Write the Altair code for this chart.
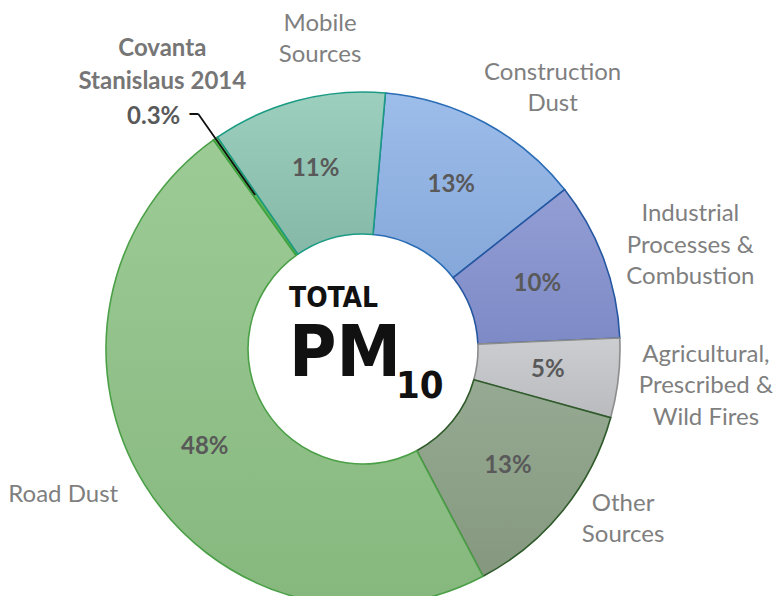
import math
import altair as alt
import pandas as pd

# ---- data ----
categories = [
    "Construction Dust",
    "Industrial Processes & Combustion",
    "Agricultural, Prescribed & Wild Fires",
    "Other Sources",
    "Road Dust",
    "Covanta Stanislaus 2014",
    "Mobile Sources",
]
values = [13, 10, 5, 13, 48, 0.3, 11]
pct_labels = ["13%", "10%", "5%", "13%", "48%", "", "11%"]
label_texts = [
    "Construction\nDust",
    "Industrial\nProcesses &\nCombustion",
    "Agricultural,\nPrescribed &\nWild Fires",
    "Other\nSources",
    "Road Dust",
    "Covanta\nStanislaus 2014",
    "Mobile\nSources",
]
covanta_pct = "0.3%"

# ---- styles ----
fill_top = ["#9dbdea", "#939ed5", "#cbcdd0", "#96aa93", "#9dcb96", "#66bd5e", "#9ccfbe"]
fill_bot = ["#85a8da", "#7e8ac6", "#b9bbbf", "#85987f", "#86b87e", "#58ad50", "#86b8a7"]
strokes = ["#2a6cb5", "#2557a0", "#8c8c8c", "#2f5a2a", "#4ba047", "#3fa33f", "#1b9b84"]

df = pd.DataFrame({
    "category": categories,
    "value": values,
    "pct": pct_labels,
    "label": label_texts,
    "order": list(range(len(categories))),
})

total = float(sum(values))
start = math.radians(5)
theta_scale = alt.Scale(domain=[0, total], range=[start, start + 2 * math.pi])

CX, CY = 355, 341
R_OUT, R_IN = 257, 115
pos = dict(x=alt.value(CX), y=alt.value(CY))

base = (
    alt.Chart(df)
    .transform_window(cum_end="sum(value)", sort=[alt.SortField("order")], frame=[None, 0])
    .transform_calculate(
        cum_start="datum.cum_end - datum.value",
        mid="datum.cum_end - datum.value / 2",
    )
)

arc_layers = []
for i, cat in enumerate(categories):
    grad = alt.Gradient(
        gradient="linear",
        stops=[alt.GradientStop(color=fill_top[i], offset=0),
               alt.GradientStop(color=fill_bot[i], offset=1)],
        x1=0, x2=0, y1=0, y2=1,
    )
    arc_layers.append(
        base.transform_filter(alt.datum.category == cat)
        .mark_arc(innerRadius=R_IN, outerRadius=R_OUT, strokeWidth=1.6,
                  fill=grad, stroke=strokes[i])
        .encode(theta=alt.Theta("cum_start:Q", scale=theta_scale), theta2="cum_end:Q", **pos)
    )

LABEL_FONT = "Lato"
pct_text = base.mark_text(
    radius=186, font=LABEL_FONT, fontSize=24, fontWeight="bold", color="#595959",
    align="center", baseline="middle",
).encode(
    theta=alt.Theta("mid:Q", scale=theta_scale),
    text="pct:N",
    **pos,
)

# per-label nudges (dx, dy) from the mid-angle point at radius 330
nudges = {
    "Construction Dust": (33, 14),
    "Industrial Processes & Combustion": (18, -20),
    "Agricultural, Prescribed & Wild Fires": (15, -32),
    "Other Sources": (3, -52),
    "Road Dust": (-19, -27),
    "Mobile Sources": (41, -6),
}
label_layers = []
for cat, (ddx, ddy) in nudges.items():
    label_layers.append(
        base.transform_filter(alt.datum.category == cat)
        .mark_text(
            radius=330, dx=ddx, dy=ddy, font=LABEL_FONT, fontSize=24, color="#7f7f7f",
            align="center", baseline="middle", lineBreak="\n", lineHeight=31.5,
        )
        .encode(theta=alt.Theta("mid:Q", scale=theta_scale), text="label:N", **pos)
    )

cov = base.transform_filter(alt.datum.category == "Covanta Stanislaus 2014")
cov_label = cov.mark_text(
    radius=287, dx=-36, dy=-65, font=LABEL_FONT, fontSize=24, fontWeight="bold",
    color="#767676", align="center", baseline="middle", lineBreak="\n", lineHeight=33,
).encode(theta=alt.Theta("mid:Q", scale=theta_scale), text="label:N", **pos)

cov_pct = cov.transform_calculate(p="'" + covanta_pct + "'").mark_text(
    radius=287, dx=-18, dy=3, font=LABEL_FONT, fontSize=24, fontWeight="bold",
    color="#595959", align="right", baseline="middle",
).encode(theta=alt.Theta("mid:Q", scale=theta_scale), text="p:N", **pos)

leader = cov.mark_arc(
    innerRadius=188, outerRadius=287, stroke="#111111", strokeWidth=1.8, filled=False,
).encode(
    theta=alt.Theta("mid:Q", scale=theta_scale),
    theta2="mid:Q",
    **pos,
)

leader_tick = cov.transform_calculate(d="'–'").mark_text(
    radius=287, dx=2, dy=0, font=LABEL_FONT, fontSize=22, fontWeight="bold",
    color="#111111", align="right", baseline="middle",
).encode(theta=alt.Theta("mid:Q", scale=theta_scale), text="d:N", **pos)

# centre title
CENTER_FONT = "'DejaVu Sans Condensed', 'Liberation Sans Narrow', 'Liberation Sans', sans-serif"
title_df = pd.DataFrame({"a": [1]})
t_total = alt.Chart(title_df).mark_text(
    text="TOTAL", font=CENTER_FONT, fontSize=28, fontWeight="bold", color="#111111",
    align="left", baseline="alphabetic",
).encode(x=alt.value(CX - 74), y=alt.value(CY - 42))
t_pm = alt.Chart(title_df).mark_text(
    text="PM", font=CENTER_FONT, fontSize=72, fontWeight="bold", color="#111111",
    align="left", baseline="alphabetic",
).encode(x=alt.value(CX - 74), y=alt.value(CY + 27))
t_10 = alt.Chart(title_df).mark_text(
    text="10", font=CENTER_FONT, fontSize=38, fontWeight="bold", color="#111111",
    align="left", baseline="alphabetic",
).encode(x=alt.value(CX + 33), y=alt.value(CY + 49))

chart = alt.layer(
    *arc_layers, leader, pct_text, *label_layers, cov_label, cov_pct, leader_tick,
    t_total, t_pm, t_10,
).properties(
    width=765, height=588, padding=0, autosize=alt.AutoSizeParams(type="none"),
).configure_view(stroke=None)

chart.save("out.html", embed_options={"renderer": "svg", "actions": False})
